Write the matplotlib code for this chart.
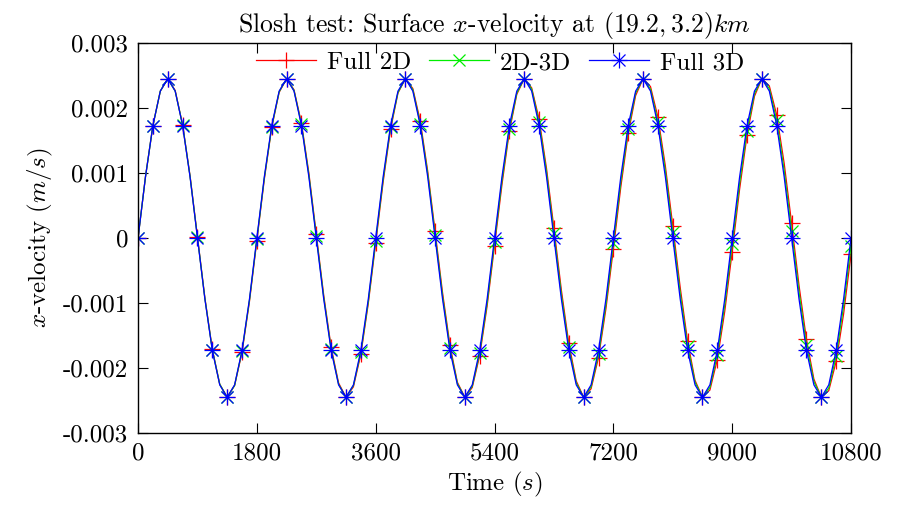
import numpy as np
import matplotlib
matplotlib.use("Agg")
import matplotlib.pyplot as plt
from matplotlib.legend_handler import HandlerTuple

plt.rcParams["font.family"] = ["cmr10", "DejaVu Serif"]
plt.rcParams["mathtext.fontset"] = "cm"
plt.rcParams["axes.unicode_minus"] = False

# time axis (s), one sample every 112.5 s
time = np.arange(0, 10800 + 1, 112.5)

# surface x-velocity, units of 1e-3 m/s
full_3d = [0, .94, 1.73, 2.26, 2.45, 2.26, 1.73, .94, 0, -.94, -1.73, -2.26, -2.45, -2.26, -1.73, -.94,
           0, .94, 1.73, 2.26, 2.45, 2.26, 1.73, .94, 0, -.94, -1.73, -2.26, -2.45, -2.26, -1.73, -.94,
           0, .94, 1.73, 2.26, 2.45, 2.26, 1.73, .94, 0, -.94, -1.73, -2.26, -2.45, -2.26, -1.73, -.94,
           0, .94, 1.73, 2.26, 2.45, 2.26, 1.73, .94, 0, -.94, -1.73, -2.26, -2.45, -2.26, -1.73, -.94,
           0, .94, 1.73, 2.26, 2.45, 2.26, 1.73, .94, 0, -.94, -1.73, -2.26, -2.45, -2.26, -1.73, -.94,
           0, .94, 1.73, 2.26, 2.45, 2.26, 1.73, .94, 0, -.94, -1.73, -2.26, -2.45, -2.26, -1.73, -.94,
           0]
full_2d = [0, .94, 1.73, 2.26, 2.45, 2.27, 1.74, .96, .02, -.92, -1.71, -2.25, -2.45, -2.27, -1.76, -.98,
           -.04, .90, 1.70, 2.24, 2.45, 2.28, 1.77, 1.00, .06, -.88, -1.68, -2.23, -2.45, -2.29, -1.79, -1.01,
           -.08, .86, 1.67, 2.23, 2.45, 2.30, 1.80, 1.03, .10, -.84, -1.65, -2.22, -2.45, -2.30, -1.81, -1.05,
           -.12, .82, 1.64, 2.21, 2.45, 2.31, 1.83, 1.07, .15, -.80, -1.62, -2.20, -2.45, -2.32, -1.84, -1.09,
           -.17, .78, 1.61, 2.19, 2.45, 2.33, 1.86, 1.11, .19, -.76, -1.59, -2.19, -2.45, -2.34, -1.87, -1.13,
           -.21, .75, 1.58, 2.18, 2.45, 2.34, 1.89, 1.15, .23, -.73, -1.56, -2.17, -2.45, -2.35, -1.90, -1.17,
           -.25]
coupled = [0, .94, 1.73, 2.26, 2.45, 2.26, 1.74, .95, .01, -.93, -1.72, -2.25, -2.45, -2.27, -1.74, -.96,
           -.02, .92, 1.71, 2.25, 2.45, 2.27, 1.75, .97, .03, -.91, -1.71, -2.25, -2.45, -2.27, -1.76, -.98,
           -.04, .90, 1.70, 2.24, 2.45, 2.28, 1.76, .99, .05, -.89, -1.69, -2.24, -2.45, -2.28, -1.77, -1.00,
           -.06, .88, 1.68, 2.23, 2.45, 2.29, 1.78, 1.01, .07, -.87, -1.68, -2.23, -2.45, -2.29, -1.79, -1.02,
           -.08, .86, 1.67, 2.23, 2.45, 2.29, 1.79, 1.03, .09, -.85, -1.66, -2.22, -2.45, -2.30, -1.80, -1.03,
           -.10, .84, 1.65, 2.22, 2.45, 2.30, 1.81, 1.04, .11, -.83, -1.65, -2.21, -2.45, -2.31, -1.82, -1.05,
           -.12]

xticks = [0, 1800, 3600, 5400, 7200, 9000, 10800]
yticks = [0.003, 0.002, 0.001, 0, -0.001, -0.002, -0.003]
ytick_labels = ["0.003", "0.002", "0.001", "0", "-0.001", "-0.002", "-0.003"]

fig = plt.figure(figsize=(9.13, 5.05), dpi=100)
ax = fig.add_axes([0.1512, 0.1426, 0.7809, 0.7723])

y2d = np.array(full_2d) * 1e-3
ycp = np.array(coupled) * 1e-3
y3d = np.array(full_3d) * 1e-3

h1, = ax.plot(time, y2d, color="red", lw=0.9, marker="+", ms=12, mew=0.9, markevery=2)
h2, = ax.plot(time, ycp, color="#00ee00", lw=0.9, marker="x", ms=9, mew=0.9, markevery=2)
h3a, = ax.plot(time, y3d, color="blue", lw=0.9, marker="+", ms=12, mew=0.9, markevery=2)
h3b, = ax.plot(time[::2], y3d[::2], color="blue", lw=0, marker="x", ms=9, mew=0.9)

ax.set_xlim(0, 10800)
ax.set_ylim(-0.003, 0.003)
ax.set_xticks(xticks)
ax.set_xticklabels([str(v) for v in xticks])
ax.set_yticks(yticks)
ax.set_yticklabels(ytick_labels)
ax.tick_params(direction="in", top=True, right=True, length=7, width=0.8, labelsize=18, pad=7)
for s in ax.spines.values():
    s.set_linewidth(1.0)

ax.set_title("Slosh test: Surface $x$-velocity at $(19.2, 3.2)km$", fontsize=18.5, pad=8)
ax.set_xlabel("Time $(s)$", fontsize=18, labelpad=4)
ax.set_ylabel("$x$-velocity $(m/s)$", fontsize=18, labelpad=6)

ax.legend([h1, h2, (h3a, h3b)], ["Full 2D", "2D-3D", "Full 3D"],
          handler_map={tuple: HandlerTuple(ndivide=1)},
          loc="center", bbox_to_anchor=(0.508, 0.949), ncol=3, frameon=False,
          fontsize=18, handlelength=2.4, columnspacing=0.7, handletextpad=0.45,
          borderpad=0, borderaxespad=0)

fig.savefig("out.png", dpi=100)
